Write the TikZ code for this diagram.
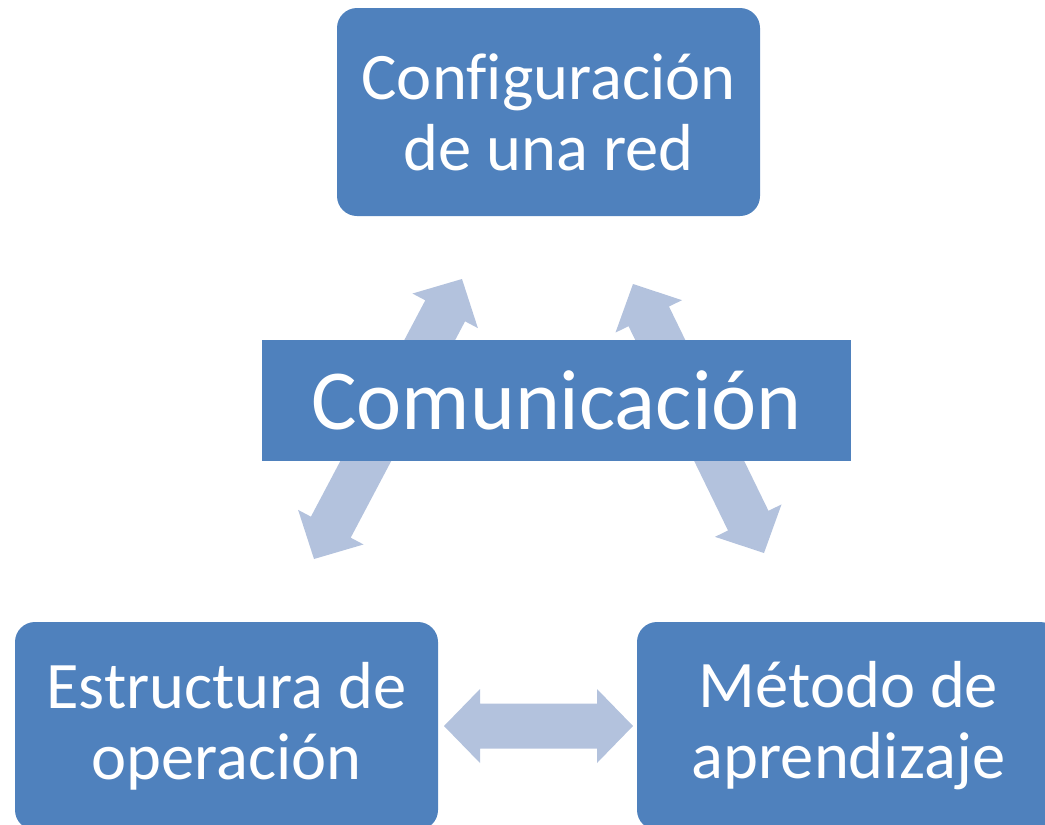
\documentclass[tikz,border=0pt]{standalone}
\usepackage{fontspec}
\setmainfont{Carlito}[Ligatures=NoCommon]
\usetikzlibrary{calc}
\definecolor{boxblue}{HTML}{4F81BD}
\definecolor{arrowblue}{HTML}{B3C2DD}
\newcommand{\dblarrow}[2]{\fill[arrowblue] (#1)
  -- ($(#1)!36pt!(#2)!37pt!90:(#2)$) -- ($(#1)!36pt!(#2)!22.5pt!90:(#2)$)
  -- ($(#2)!36pt!(#1)!22.5pt!-90:(#1)$) -- ($(#2)!36pt!(#1)!37pt!-90:(#1)$)
  -- (#2)
  -- ($(#2)!36pt!(#1)!37pt!90:(#1)$) -- ($(#2)!36pt!(#1)!22.5pt!90:(#1)$)
  -- ($(#1)!36pt!(#2)!22.5pt!-90:(#2)$) -- ($(#1)!36pt!(#2)!37pt!-90:(#2)$)
  -- cycle}

\begin{document}
\begin{tikzpicture}[x=1pt, y=-1pt,
    block/.style={fill=boxblue, text=white, rounded corners=20pt, inner sep=0pt,
      minimum width=423pt, minimum height=208pt, align=center,
      font=\fontsize{66.5}{71}\selectfont},
    center/.style={fill=boxblue, text=white, inner sep=0pt,
      minimum width=589pt, minimum height=121pt,
      font=\fontsize{85.5}{90}\selectfont}]
            \useasboundingbox (0,0) rectangle (1045,825);

            \coordinate (la) at (462,279);
            \coordinate (lb) at (314,559);
            \coordinate (ra) at (633,284);
            \coordinate (rb) at (764,553);
            \coordinate (ha) at (444,726);
            \coordinate (hb) at (633,726);

            \dblarrow{la}{lb};
            \dblarrow{ra}{rb};
            \dblarrow{ha}{hb};

            \node[block] (red) at (548.5,112) {Configuración\\de una red};
            \node[block] (estructura) at (226.5,726) {Estructura de\\operación};
            \node[block] (metodo) at (848.5,726) {Método de\\aprendizaje};
            \node[center] (com) at (556.5,400.5) {Comunicación};
        \end{tikzpicture}
\end{document}
